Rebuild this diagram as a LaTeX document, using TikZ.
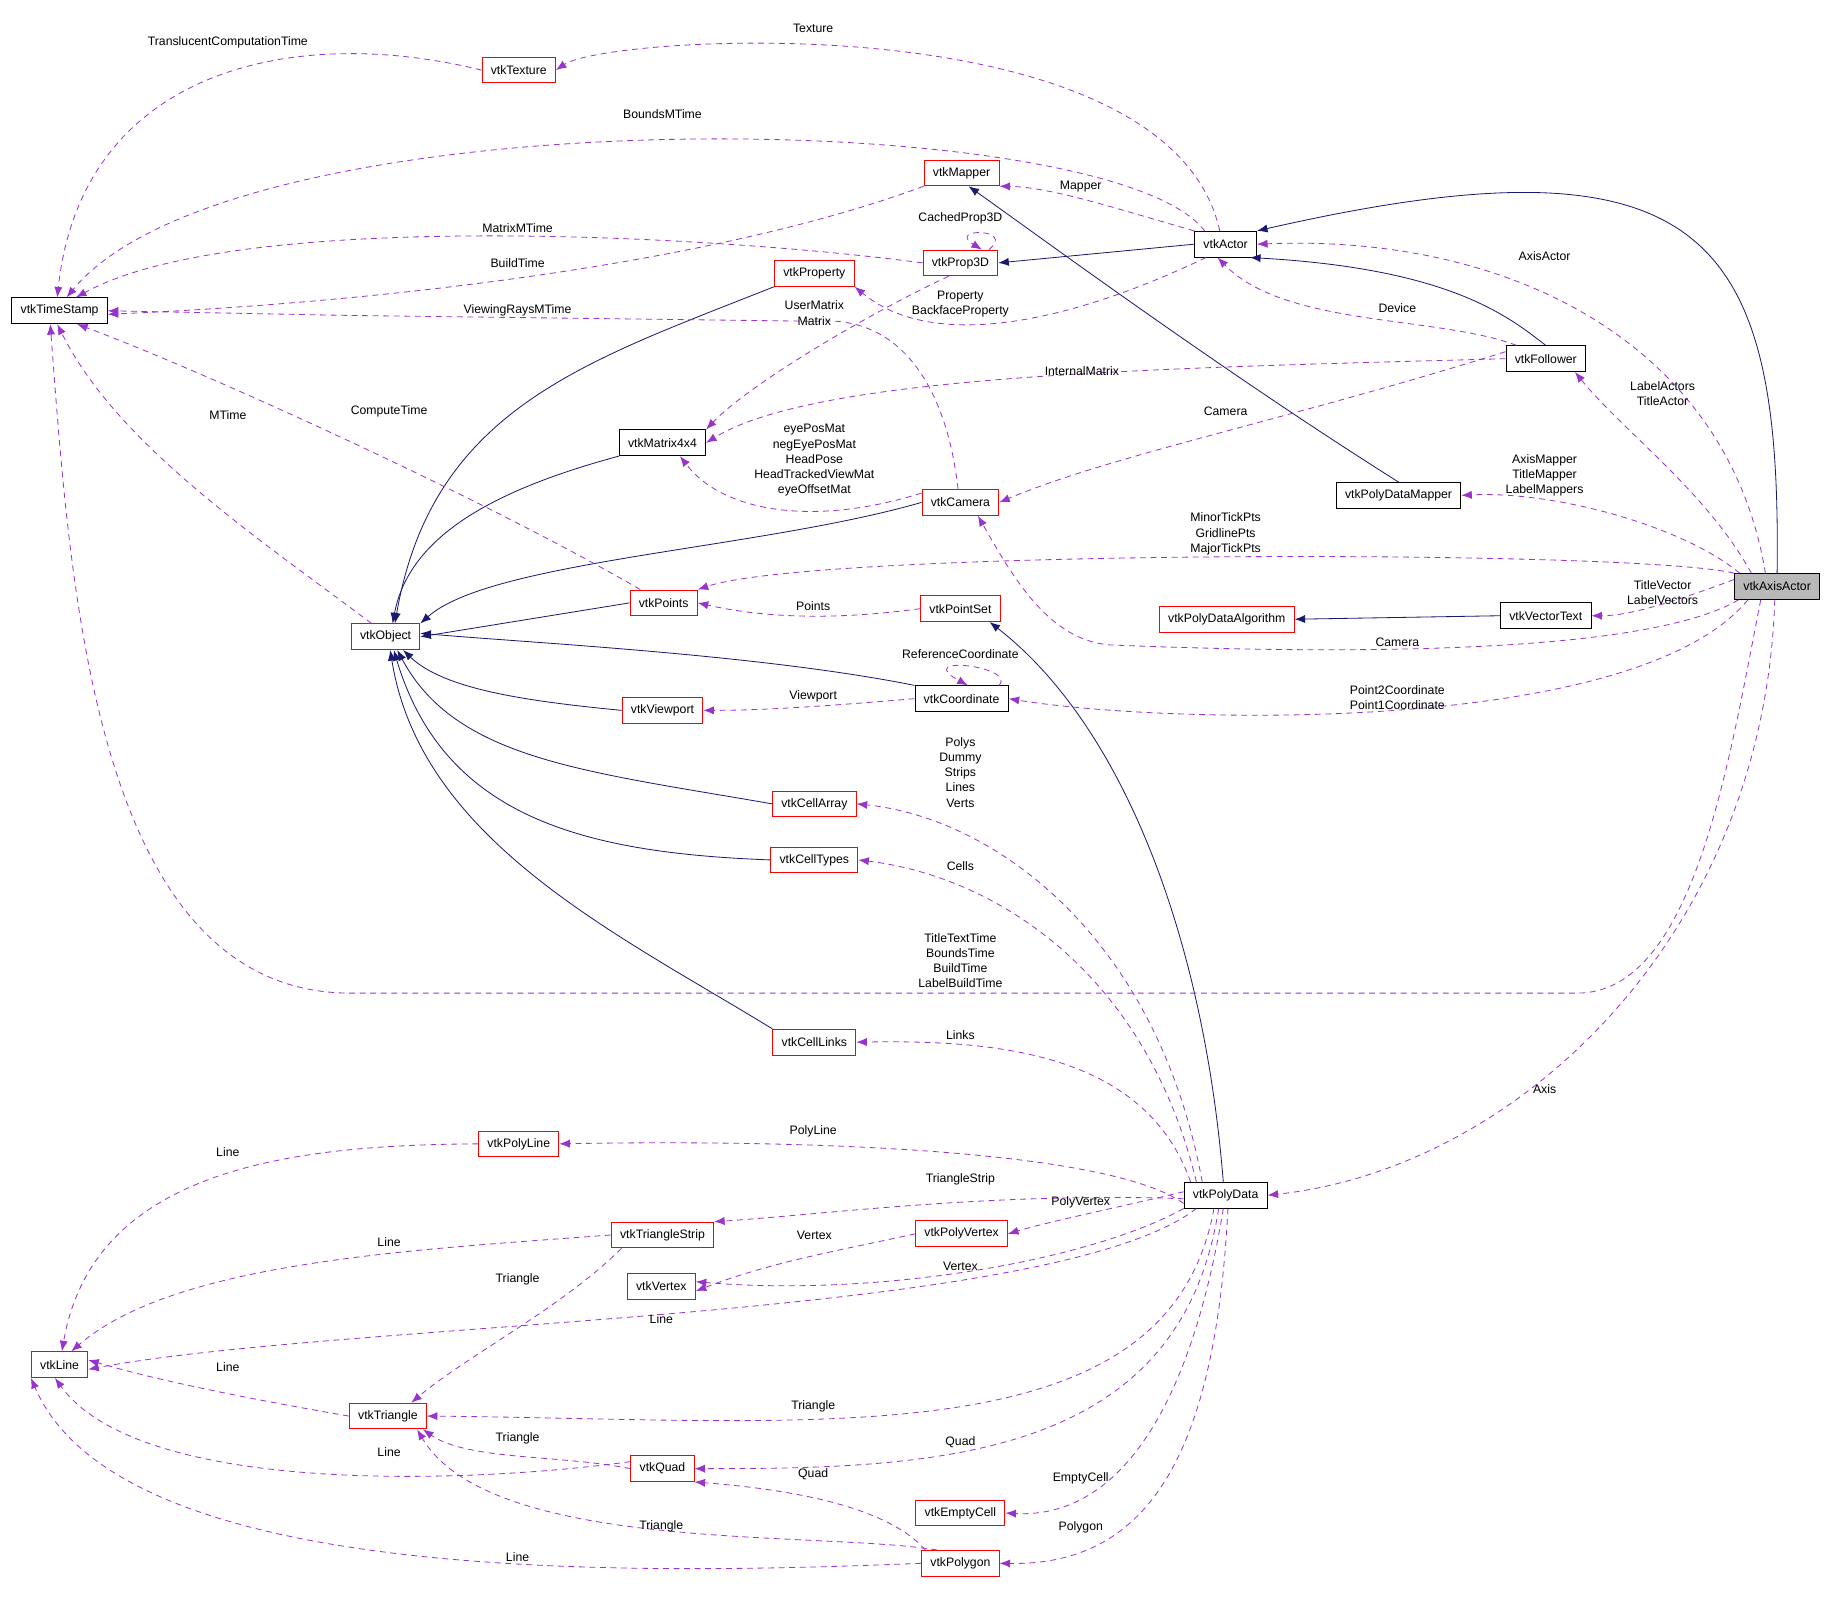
\documentclass[tikz,border=0pt]{standalone}
\usepackage{fontspec}
\setmainfont{Liberation Sans}
\usetikzlibrary{arrows.meta}
\definecolor{navy}{HTML}{191970}
\definecolor{purp}{HTML}{9A32CD}
\begin{document}
\begin{tikzpicture}[x=1pt,y=-1pt,
  font=\fontsize{10.5}{13}\selectfont,
  cls/.style={draw=black,fill=white,minimum height=22pt,inner xsep=7.5pt,inner ysep=0pt,line width=0.8pt},
  rcls/.style={cls,draw=red},
  inh/.style={navy,line width=0.7pt,-{Latex[length=9pt,width=7pt]}},
  dep/.style={purp,line width=0.7pt,dash pattern=on 5pt off 4pt,-{Latex[length=9pt,width=7pt]}},
  lab/.style={align=center,inner sep=0pt}]
\useasboundingbox (0,0) rectangle (1568,1386);
% nodes
\node[rcls] (tex) at (444,60) {vtkTexture};
\node[cls] (ts) at (51,266) {vtkTimeStamp};
\node[rcls] (map) at (823,148) {vtkMapper};
\node[cls] (act) at (1049,209) {vtkActor};
\node[rcls] (p3d) at (822,225) {vtkProp3D};
\node[rcls] (prop) at (697,234) {vtkProperty};
\node[cls] (fol) at (1323,307) {vtkFollower};
\node[cls] (mat) at (567,379) {vtkMatrix4x4};
\node[cls] (pdm) at (1197,424) {vtkPolyDataMapper};
\node[rcls] (cam) at (822,430) {vtkCamera};
\node[cls,fill=gray!55] (axa) at (1521,502) {vtkAxisActor};
\node[rcls] (pts) at (568,516) {vtkPoints};
\node[rcls] (pset) at (822,521) {vtkPointSet};
\node[rcls] (obj) at (330,545) {vtkObject};
\node[rcls] (pda) at (1050,530) {vtkPolyDataAlgorithm};
\node[cls] (vt) at (1323,527) {vtkVectorText};
\node[cls] (coord) at (823,598) {vtkCoordinate};
\node[rcls] (vp) at (567,608) {vtkViewport};
\node[rcls] (ca) at (697,688) {vtkCellArray};
\node[rcls] (ct) at (697,736) {vtkCellTypes};
\node[rcls] (cl) at (697,892) {vtkCellLinks};
\node[rcls] (pl) at (444,979) {vtkPolyLine};
\node[cls] (pd) at (1049,1023) {vtkPolyData};
\node[rcls] (tstr) at (567,1057) {vtkTriangleStrip};
\node[rcls] (pv) at (823,1056) {vtkPolyVertex};
\node[rcls] (vx) at (566,1101) {vtkVertex};
\node[rcls] (ln) at (51,1168) {vtkLine};
\node[rcls] (tri) at (332,1212) {vtkTriangle};
\node[rcls] (quad) at (567,1257) {vtkQuad};
\node[rcls] (ec) at (822,1295) {vtkEmptyCell};
\node[rcls] (pg) at (822,1338) {vtkPolygon};
\coordinate (camvia) at (950,552);
% inheritance
\draw[inh] (axa.north) .. controls (1525,200) and (1460,110) .. (act.north east);
\draw[inh] (act.west) -- (p3d.east);
\draw[inh] (fol.north) .. controls (1290,270) and (1240,230) .. ([xshift=-6pt]act.south east);
\draw[inh] (pdm.north) .. controls (1050,320) and (900,210) .. ([xshift=6pt]map.south);
\draw[inh] (prop.south west) .. controls (500,310) and (370,350) .. ([xshift=8pt]obj.north);
\draw[inh] (mat.south west) .. controls (420,420) and (350,460) .. ([xshift=6pt]obj.north);
\draw[inh] (cam.west) .. controls (650,470) and (420,480) .. (obj.north east);
\draw[inh] (pts.west) -- (obj.east);
\draw[inh] (coord.north west) .. controls (650,560) and (450,550) .. ([yshift=3pt]obj.east);
\draw[inh] (vp.west) .. controls (450,600) and (380,590) .. ([xshift=15pt]obj.south);
\draw[inh] (ca.west) .. controls (500,660) and (390,650) .. ([xshift=10pt]obj.south);
\draw[inh] (ct.west) .. controls (500,730) and (380,700) .. ([xshift=7pt]obj.south);
\draw[inh] (cl.north west) .. controls (530,800) and (360,720) .. ([xshift=4pt]obj.south);
\draw[inh] ([xshift=-2pt]pd.north) .. controls (1030,800) and (960,620) .. ([xshift=25pt]pset.south);
\draw[inh] (vt.west) -- (pda.east);
% dependencies
\draw[dep] (tex.west) .. controls (250,20) and (70,60) .. ([xshift=-2pt]ts.north);
\node[lab] (l1) at (195,36) {TranslucentComputationTime};
\draw[dep] ([xshift=-5pt]act.north) .. controls (1000,0) and (520,30) .. (tex.east);
\node[lab] (l2) at (696,24) {Texture};
\draw[dep] ([xshift=-18pt]act.north) .. controls (950,90) and (200,80) .. ([xshift=6pt]ts.north);
\node[lab] (l3) at (567,98) {BoundsMTime};
\draw[dep] (act.north west) .. controls (960,180) and (900,160) .. (map.south east);
\node[lab] (l4) at (925,160) {Mapper};
\draw[dep] (map.south west) .. controls (600,230) and (300,260) .. ([yshift=-3pt]ts.east);
\node[lab] (l5) at (443,225) {BuildTime};
\draw[dep] (p3d.west) .. controls (600,200) and (200,180) .. ([xshift=14pt]ts.north);
\node[lab] (l6) at (443,195) {MatrixMTime};
\draw[dep] ([xshift=-8pt]p3d.north east) .. controls (870,195) and (810,195) .. ([xshift=-14pt]p3d.north east);
\node[lab] (l7) at (822,187) {CachedProp3D};
\draw[dep] ([xshift=10pt]act.south west) .. controls (950,260) and (810,310) .. (prop.south east);
\node[lab] (l8) at (822,260) {Property\\BackfaceProperty};
\draw[dep] ([xshift=-2pt]cam.north) .. controls (810,330) and (770,270) .. (700,275) -- (300,270) -- (ts.east);
\node[lab] (l9) at (443,266) {ViewingRaysMTime};
\draw[dep] ([xshift=-10pt]p3d.south) .. controls (740,270) and (640,330) .. (mat.north east);
\node[lab] (l10) at (697,268) {UserMatrix\\Matrix};
\draw[dep] (fol.west) .. controls (1000,315) and (700,320) .. (mat.east);
\node[lab] (l11) at (926,318) {InternalMatrix};
\draw[dep] ([yshift=6pt]fol.west) .. controls (1100,360) and (950,390) .. (cam.east);
\node[lab] (l12) at (1049,352) {Camera};
\draw[dep] ([xshift=-25pt]fol.north) .. controls (1230,270) and (1100,280) .. ([xshift=20pt]act.south west);
\node[lab] (l13) at (1196,264) {Device};
\draw[dep] ([yshift=8pt]cam.west) .. controls (700,450) and (620,440) .. ([xshift=15pt]mat.south);
\node[lab] (l14) at (697,394) {eyePosMat\\negEyePosMat\\HeadPose\\HeadTrackedViewMat\\eyeOffsetMat};
\draw[dep] ([xshift=-12pt]obj.north) .. controls (220,460) and (100,380) .. ([xshift=-2pt]ts.south);
\node[lab] (l15) at (195,355) {MTime};
\draw[dep] ([xshift=-20pt]pts.north) .. controls (420,430) and (180,320) .. ([xshift=15pt]ts.south);
\node[lab] (l16) at (333,352) {ComputeTime};
\draw[dep] (pset.west) .. controls (720,530) and (660,530) .. (pts.east);
\node[lab] (l17) at (696,519) {Points};
\draw[dep] ([xshift=-8pt]coord.north east) .. controls (870,570) and (780,560) .. ([xshift=-35pt]coord.north east);
\node[lab] (l18) at (822,560) {ReferenceCoordinate};
\draw[dep] (coord.west) .. controls (700,605) and (650,608) .. (vp.east);
\node[lab] (l19) at (696,596) {Viewport};
\draw[dep] ([xshift=-10pt]axa.north) .. controls (1480,300) and (1300,200) .. (act.east);
\node[lab] (l20) at (1322,219) {AxisActor};
\draw[dep] ([xshift=-22pt]axa.north) .. controls (1460,420) and (1390,370) .. ([xshift=25pt]fol.south);
\node[lab] (l21) at (1423,337) {LabelActors\\TitleActor};
\draw[dep] ([xshift=-32pt]axa.north) .. controls (1440,450) and (1330,420) .. (pdm.east);
\node[lab] (l22) at (1322,407) {AxisMapper\\TitleMapper\\LabelMappers};
\draw[dep] (axa.north west) .. controls (1400,470) and (700,470) .. (pts.north east);
\node[lab] (l23) at (1049,457) {MinorTickPts\\GridlinePts\\MajorTickPts};
\draw[dep] ([yshift=6pt]axa.west) .. controls (1420,520) and (1390,527) .. (vt.east);
\node[lab] (l24) at (1423,507) {TitleVector\\LabelVectors};
\draw[dep] ([xshift=-33pt]axa.south) .. controls (1400,565) and (1100,558) .. (camvia) .. controls (900,548) and (870,500) .. ([xshift=15pt]cam.south);
\node[lab] (l25) at (1196,550) {Camera};
\draw[dep] ([xshift=-25pt]axa.south) .. controls (1400,630) and (1000,620) .. (coord.east);
\node[lab] (l26) at (1196,597) {Point2Coordinate\\Point1Coordinate};
\draw[dep] ([xshift=-14pt]axa.south) .. controls (1480,650) and (1450,850) .. (1350,850) -- (300,850) .. controls (80,850) and (60,500) .. ([xshift=-8pt]ts.south);
\node[lab] (l27) at (822,822) {TitleTextTime\\BoundsTime\\BuildTime\\LabelBuildTime};
\draw[dep] ([xshift=-2pt]axa.south) .. controls (1510,800) and (1300,1000) .. (pd.east);
\node[lab] (l28) at (1322,932) {Axis};
\draw[dep] ([xshift=-20pt]pd.north) .. controls (990,800) and (850,700) .. (ca.east);
\node[lab] (l29) at (822,661) {Polys\\Dummy\\Strips\\Lines\\Verts};
\draw[dep] ([xshift=-25pt]pd.north) .. controls (980,830) and (850,750) .. (ct.east);
\node[lab] (l30) at (822,741) {Cells};
\draw[dep] ([xshift=-30pt]pd.north) .. controls (980,900) and (850,890) .. (cl.east);
\node[lab] (l31) at (822,886) {Links};
\draw[dep] ([yshift=-7pt]pd.west) .. controls (950,985) and (700,975) .. (pl.east);
\node[lab] (l32) at (696,968) {PolyLine};
\draw[dep] ([yshift=-3pt]pd.west) .. controls (850,1020) and (700,1040) .. (tstr.north east);
\node[lab] (l33) at (822,1009) {TriangleStrip};
\draw[dep] ([yshift=3pt]pd.west) .. controls (950,1035) and (900,1045) .. (pv.east);
\node[lab] (l34) at (925,1029) {PolyVertex};
\draw[dep] (pv.west) .. controls (720,1070) and (660,1080) .. ([yshift=-4pt]vx.east);
\node[lab] (l35) at (697,1057) {Vertex};
\draw[dep] (pd.south west) .. controls (930,1080) and (750,1110) .. ([yshift=4pt]vx.east);
\node[lab] (l36) at (822,1084) {Vertex};
\draw[dep] ([xshift=-25pt]pd.south) .. controls (900,1130) and (300,1130) .. ([yshift=-4pt]ln.east);
\node[lab] (l37) at (566,1129) {Line};
\draw[dep] (tstr.west) .. controls (350,1070) and (150,1080) .. ([xshift=10pt]ln.north);
\node[lab] (l38) at (333,1063) {Line};
\draw[dep] ([xshift=-35pt]tstr.south) .. controls (480,1120) and (400,1160) .. ([xshift=20pt]tri.north);
\node[lab] (l39) at (443,1095) {Triangle};
\draw[dep] (pl.west) .. controls (250,980) and (80,1000) .. ([xshift=2pt]ln.north);
\node[lab] (l40) at (195,986) {Line};
\draw[dep] (tri.west) .. controls (200,1195) and (130,1180) .. ([yshift=4pt]ln.east);
\node[lab] (l41) at (195,1170) {Line};
\draw[dep] ([xshift=-10pt]pd.south) .. controls (1000,1250) and (700,1215) .. (tri.east);
\node[lab] (l42) at (696,1204) {Triangle};
\draw[dep] (quad.west) .. controls (480,1245) and (400,1250) .. ([xshift=30pt]tri.south);
\node[lab] (l43) at (443,1231) {Triangle};
\draw[dep] ([yshift=6pt]quad.west) .. controls (400,1270) and (120,1280) .. ([xshift=-4pt]ln.south);
\node[lab] (l44) at (333,1243) {Line};
\draw[dep] ([xshift=-6pt]pd.south) .. controls (1010,1250) and (800,1257) .. (quad.east);
\node[lab] (l45) at (822,1234) {Quad};
\draw[dep] ([xshift=-30pt]pg.north) .. controls (760,1290) and (680,1275) .. (quad.south east);
\node[lab] (l46) at (696,1262) {Quad};
\draw[dep] ([xshift=-20pt]pg.north) .. controls (700,1310) and (420,1330) .. ([xshift=25pt]tri.south);
\node[lab] (l47) at (566,1306) {Triangle};
\draw[dep] (pg.west) .. controls (500,1350) and (100,1350) .. (ln.south west);
\node[lab] (l48) at (443,1333) {Line};
\draw[dep] ([xshift=-2pt]pd.south) .. controls (1020,1200) and (960,1300) .. (ec.east);
\node[lab] (l49) at (925,1265) {EmptyCell};
\draw[dep] ([xshift=2pt]pd.south) .. controls (1040,1250) and (980,1340) .. (pg.east);
\node[lab] (l50) at (925,1307) {Polygon};
\end{tikzpicture}
\end{document}
